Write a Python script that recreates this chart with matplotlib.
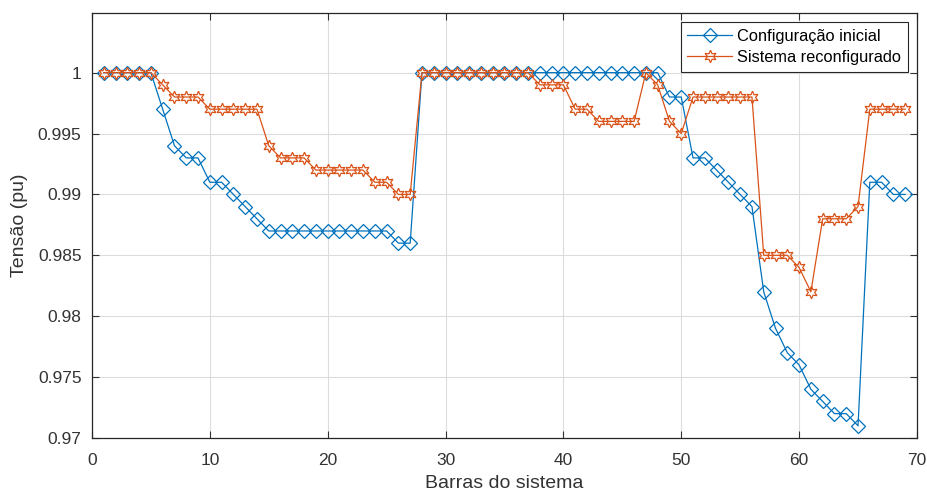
import numpy as np
import matplotlib.pyplot as plt

plt.rcParams['font.family'] = ['Liberation Sans', 'DejaVu Sans']

barras = list(range(1, 70))

config_inicial = [
    1, 1, 1, 1, 1, 0.997, 0.994, 0.993, 0.993, 0.991,
    0.991, 0.990, 0.989, 0.988, 0.987, 0.987, 0.987, 0.987, 0.987, 0.987,
    0.987, 0.987, 0.987, 0.987, 0.987, 0.986, 0.986, 1, 1, 1,
    1, 1, 1, 1, 1, 1, 1, 1, 1, 1,
    1, 1, 1, 1, 1, 1, 1, 1, 0.998, 0.998,
    0.993, 0.993, 0.992, 0.991, 0.990, 0.989, 0.982, 0.979, 0.977, 0.976,
    0.974, 0.973, 0.972, 0.972, 0.971, 0.991, 0.991, 0.990, 0.990,
]

sistema_reconf = [
    1, 1, 1, 1, 1, 0.999, 0.998, 0.998, 0.998, 0.997,
    0.997, 0.997, 0.997, 0.997, 0.994, 0.993, 0.993, 0.993, 0.992, 0.992,
    0.992, 0.992, 0.992, 0.991, 0.991, 0.990, 0.990, 1, 1, 1,
    1, 1, 1, 1, 1, 1, 1, 0.999, 0.999, 0.999,
    0.997, 0.997, 0.996, 0.996, 0.996, 0.996, 1, 0.999, 0.996, 0.995,
    0.998, 0.998, 0.998, 0.998, 0.998, 0.998, 0.985, 0.985, 0.985, 0.984,
    0.982, 0.988, 0.988, 0.988, 0.989, 0.997, 0.997, 0.997, 0.997,
]

azul = '#0072BD'
laranja = '#D95319'

fig = plt.figure(figsize=(9.28, 4.94), dpi=100)
ax = fig.add_axes([0.0991, 0.1134, 0.8890, 0.8603])

ax.plot(barras, config_inicial, color=azul, lw=0.9, marker='D', markersize=7.5,
        markerfacecolor='none', markeredgecolor=azul, markeredgewidth=0.9,
        label='Configuração inicial')
ax.plot(barras, sistema_reconf, color=laranja, lw=0.9, marker=(6, 1, 0), markersize=9,
        markerfacecolor='none', markeredgecolor=laranja, markeredgewidth=0.9,
        label='Sistema reconfigurado')

ax.set_xlim(0, 70)
ax.set_ylim(0.97, 1.0049)
ax.set_xticks(np.arange(0, 71, 10))
ax.set_yticks([0.97, 0.975, 0.98, 0.985, 0.99, 0.995, 1])
ax.set_yticklabels(['0.97', '0.975', '0.98', '0.985', '0.99', '0.995', '1'])

ax.grid(True, color='#dcdcdc', lw=0.8)
ax.set_axisbelow(True)
ax.tick_params(direction='in', top=True, right=True, labelsize=12.5,
               colors='#333333', length=5, width=0.8)
ax.tick_params(axis='x', pad=11)
ax.tick_params(axis='y', pad=7.5)
for s in ax.spines.values():
    s.set_color('#262626')
    s.set_linewidth(0.9)

ax.set_xlabel('Barras do sistema', fontsize=14, color='#333333', labelpad=5)
ax.set_ylabel('Tensão (pu)', fontsize=14, color='#333333', labelpad=7)

leg = ax.legend(loc='upper right', fontsize=11.8, frameon=True, fancybox=False,
                edgecolor='#262626', framealpha=1, borderpad=0.4, handlelength=2.75,
                labelspacing=0.4, borderaxespad=0.55, handletextpad=0.3)
leg.get_frame().set_linewidth(0.8)

fig.savefig('out.png', dpi=100)
